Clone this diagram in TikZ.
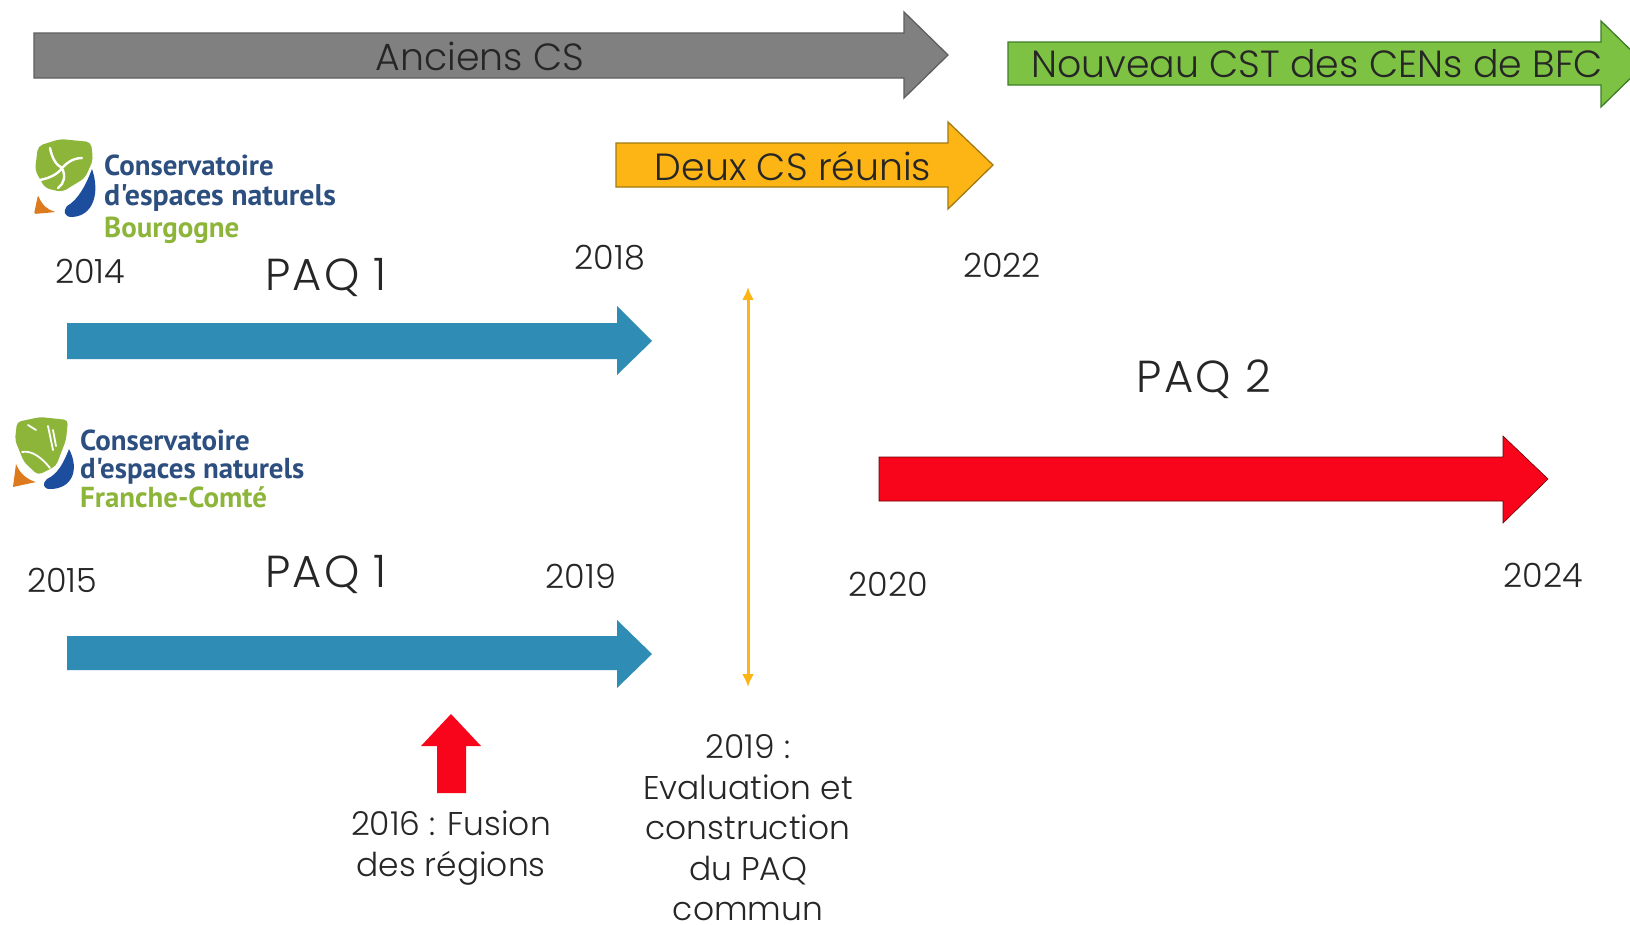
\documentclass[tikz,border=0pt]{standalone}
\usepackage{fontspec}
\usetikzlibrary{arrows.meta}
\setmainfont{Poppins Light}
\newfontfamily\paqfont[LetterSpace=5]{Poppins Light}
\newfontfamily\logofont{PT Sans}
\definecolor{txt}{HTML}{262626}
\definecolor{greyA}{HTML}{808080}
\definecolor{greyB}{HTML}{5F5F5F}
\definecolor{greenA}{HTML}{7DC242}
\definecolor{greenB}{HTML}{3F7D2A}
\definecolor{orangeA}{HTML}{FDB515}
\definecolor{orangeB}{HTML}{A07A10}
\definecolor{blueA}{HTML}{2E8CB5}
\definecolor{redA}{HTML}{F9051B}
\definecolor{logoblue}{HTML}{2C4F80}
\definecolor{logogreen}{HTML}{8CB53A}
\definecolor{logodark}{HTML}{1D4E9E}
\definecolor{logoorange}{HTML}{DD7A1E}
\tikzset{
  x=1bp,y=-1bp,
  year/.style={font=\fontsize{33.5}{33.5}\selectfont,text=txt,inner sep=0pt},
  paq/.style={font=\paqfont\fontsize{45}{45}\selectfont,text=txt,inner sep=0pt},
  banner/.style={font=\fontsize{38}{38}\selectfont,text=txt,inner sep=0pt},
  caption/.style={font=\fontsize{33}{40.7}\selectfont,text=txt,inner sep=0pt,align=center},
  logotext/.style={font=\logofont\bfseries\fontsize{29}{29}\selectfont,inner sep=0pt,anchor=base west},
  logotextwide/.style={logotext,font=\logofont\bfseries\fontsize{30}{30}\selectfont},
  block/.style={line width=1.3pt,line join=miter},
}
\begin{document}
\begin{tikzpicture}
\useasboundingbox (0,0) rectangle (1630,924);
\clip (0,0) rectangle (1630,924);
\fill[white] (0,0) rectangle (1630,924);
% banners
\filldraw[block,fill=greyA,draw=greyB] (34,33)--(904,33)--(904,12)--(948,55)--(904,98)--(904,78)--(34,78)--cycle;
\node[banner] (anciens) at (480,56) {Anciens CS};
\filldraw[block,fill=greenA,draw=greenB] (1008,42)--(1601,42)--(1601,21)--(1645,64)--(1601,107)--(1601,85)--(1008,85)--cycle;
\node[banner] (nouveau) at (1317,64) {Nouveau CST des CENs de BFC};
\filldraw[block,fill=orangeA,draw=orangeB] (616,143)--(948,143)--(948,122)--(993,165)--(948,209)--(948,187)--(616,187)--cycle;
\node[banner] (deux) at (793,166) {Deux CS réunis};
% PAQ arrows
\fill[blueA] (67,323)--(617,323)--(617,306)--(652,341)--(617,375)--(617,359)--(67,359)--cycle;
\fill[blueA] (67,636)--(617,636)--(617,620)--(652,654)--(617,688)--(617,670)--(67,670)--cycle;
\fill[redA,draw=black!60!red,line width=0.6pt] (879,457)--(1503,457)--(1503,436)--(1548,479)--(1503,523)--(1503,501)--(879,501)--cycle;
\fill[redA] (437,793)--(437,746)--(421,746)--(451,714)--(481,746)--(466,746)--(466,793)--cycle;
% double arrow
\coordinate (evalTop) at (748,287);
\coordinate (evalBot) at (748,687);
\draw[orangeA,line width=3pt,{Latex[length=13pt,width=12pt]}-{Latex[length=13pt,width=12pt]}] (evalTop) -- (evalBot);
% labels
\node[year] (y14) at (90,271) {2014};
\node[year] (y18) at (610,258) {2018};
\node[year] (y22) at (1002,265) {2022};
\node[year] (y15) at (62,580) {2015};
\node[year] (y19) at (581,576) {2019};
\node[year] (y20) at (888,584) {2020};
\node[year] (y24) at (1543,575) {2024};
\node[paq] (paqa) at (326,277) {PAQ 1};
\node[paq] (paqb) at (326,574) {PAQ 1};
\node[paq] (paqc) at (1204,379) {PAQ 2};
\node[caption] (fusion) at (451,848) {2016 : Fusion\\des régions};
\node[caption] (evaluation) at (748,828) {2019 :\\Evaluation et\\construction\\du PAQ\\commun};
% logo Bourgogne
\fill[logogreen,rounded corners=5pt] (38,146)--(60,139)--(91,142)--(93,160)--(85,178)--(62,192)--(45,188)--(35,170)--cycle;
\draw[white,line width=2.4pt,line cap=round] (50,148) .. controls (52,158) and (56,165) .. (62,168) (40,180) .. controls (50,178) and (58,174) .. (62,168) (82,158) .. controls (72,158) and (66,164) .. (62,168) (62,168) .. controls (66,176) and (64,184) .. (58,188);
\fill[logoorange,rounded corners=2pt] (38,195) .. controls (42,205) and (48,210) .. (56,212)--(34,214)--cycle;
\fill[logodark] (92,169) .. controls (100,192) and (94,216) .. (72,217) .. controls (64,217) and (63,211) .. (67,206) .. controls (78,200) and (86,185) .. (92,169)--cycle;
\node[logotext,text=logoblue] (bconservatoire) at (104,175) {Conservatoire};
\node[logotextwide,text=logoblue] (bespaces) at (104,205) {d'espaces naturels};
\node[logotext,text=logogreen] (bregion) at (104,237) {Bourgogne};
% logo Franche-Comte
\fill[logogreen,rounded corners=4pt] (17,422)--(40,417)--(68,420)--(66,440)--(56,466)--(38,475)--(24,462)--(15,440)--cycle;
\draw[white,line width=1.8pt,line cap=round] (48,426)--(53,450) (53,430)--(56,446) (28,425)--(36,430) (22,452) .. controls (32,450) and (42,458) .. (50,468);
\fill[logoorange] (16,464) .. controls (20,474) and (28,480) .. (36,482)--(13,487)--cycle;
\fill[logodark] (69,449) .. controls (80,470) and (72,489) .. (50,489) .. controls (43,489) and (42,483) .. (47,479) .. controls (58,474) and (64,462) .. (69,449)--cycle;
\node[logotext,text=logoblue] (fconservatoire) at (80,450) {Conservatoire};
\node[logotext,text=logoblue] (fespaces) at (80,478) {d'espaces naturels};
\node[logotext,text=logogreen] (fregion) at (80,507) {Franche-Comté};
\end{tikzpicture}
\end{document}
